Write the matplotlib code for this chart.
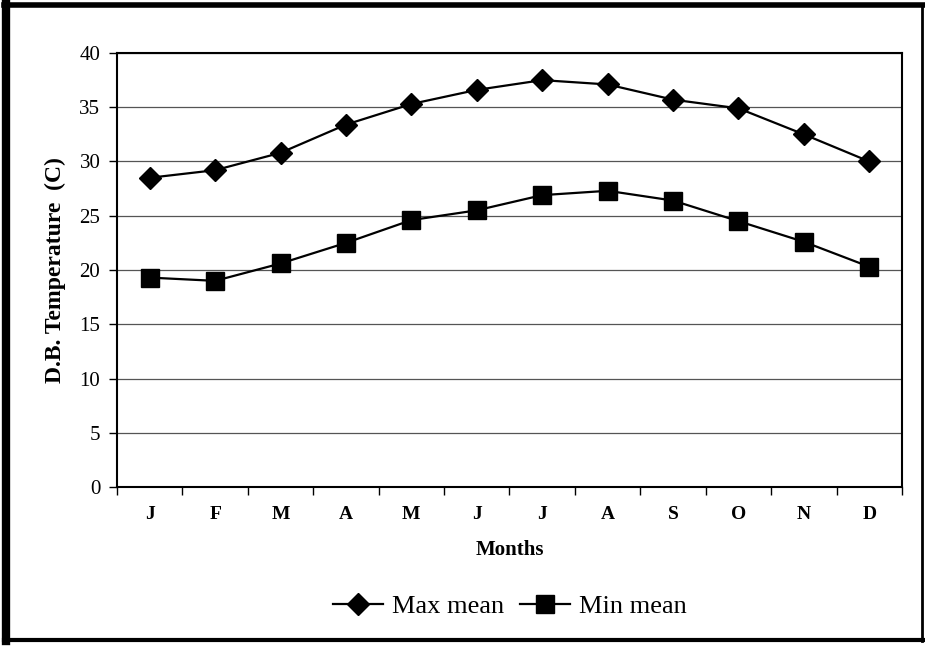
import numpy as np
import matplotlib
matplotlib.use('Agg')
import matplotlib.pyplot as plt
from matplotlib.lines import Line2D

months = ['J', 'F', 'M', 'A', 'M', 'J', 'J', 'A', 'S', 'O', 'N', 'D']
max_mean = [28.5, 29.2, 30.8, 33.4, 35.3, 36.6, 37.5, 37.1, 35.7, 34.9, 32.5, 30.0]
min_mean = [19.3, 19.0, 20.6, 22.5, 24.6, 25.5, 26.9, 27.3, 26.4, 24.5, 22.6, 20.3]
y_ticks = [0, 5, 10, 15, 20, 25, 30, 35, 40]

plt.rcParams['font.family'] = ['Liberation Serif', 'DejaVu Serif']

fig = plt.figure(figsize=(9.25, 6.46), dpi=100)
ax = fig.add_axes([117/925, 1-487/646, (902-117)/925, (487-53)/646])

x = np.arange(len(months)) + 0.5
ax.plot(x, max_mean, color='black', lw=1.6, marker='D', ms=11, label='Max mean')
ax.plot(x, min_mean, color='black', lw=1.6, marker='s', ms=13, label='Min mean')

ax.set_xlim(0, 12)
ax.set_ylim(0, 40)
ax.set_yticks(y_ticks)
ax.tick_params(axis='y', labelsize=15, length=6, width=1, pad=6)
ax.set_xticks(np.arange(13))
ax.set_xticklabels([])
ax.set_xticks(x, minor=True)
ax.set_xticklabels(months, minor=True, fontsize=14, fontweight='bold')
ax.tick_params(axis='x', which='major', length=6, width=1)
ax.tick_params(axis='x', which='minor', length=0, pad=14)

ax.grid(axis='y', color='#555555', lw=0.9)
ax.set_axisbelow(True)
for s in ax.spines.values():
    s.set_linewidth(1.5)

ax.set_xlabel('Months', fontsize=15, fontweight='bold')
ax.set_ylabel('D.B. Temperature  (C)', fontsize=17, fontweight='bold')
ax.xaxis.set_label_coords(0.5, (487-550)/434, transform=ax.transAxes)
ax.yaxis.set_label_coords((55-117)/785, 0.5, transform=ax.transAxes)
ax.xaxis.label.set_va('center')
ax.yaxis.label.set_va('center')

fig.legend(loc='center', bbox_to_anchor=(510/925, 1-606/646), ncol=2, frameon=False,
           fontsize=19, handlelength=1.9, columnspacing=0.6, handletextpad=0.35)

# outer frame of the chart
fig.add_artist(Line2D([6/925, 6/925], [0.008, 0.994], color='black', lw=6, transform=fig.transFigure))
fig.add_artist(Line2D([0.004, 0.998], [1-5/646, 1-5/646], color='black', lw=4, transform=fig.transFigure))
fig.add_artist(Line2D([0.004, 0.998], [1-640/646, 1-640/646], color='black', lw=3, transform=fig.transFigure))
fig.add_artist(Line2D([922/925, 922/925], [0.008, 0.994], color='black', lw=2, transform=fig.transFigure))

fig.savefig('out.png', dpi=100)
